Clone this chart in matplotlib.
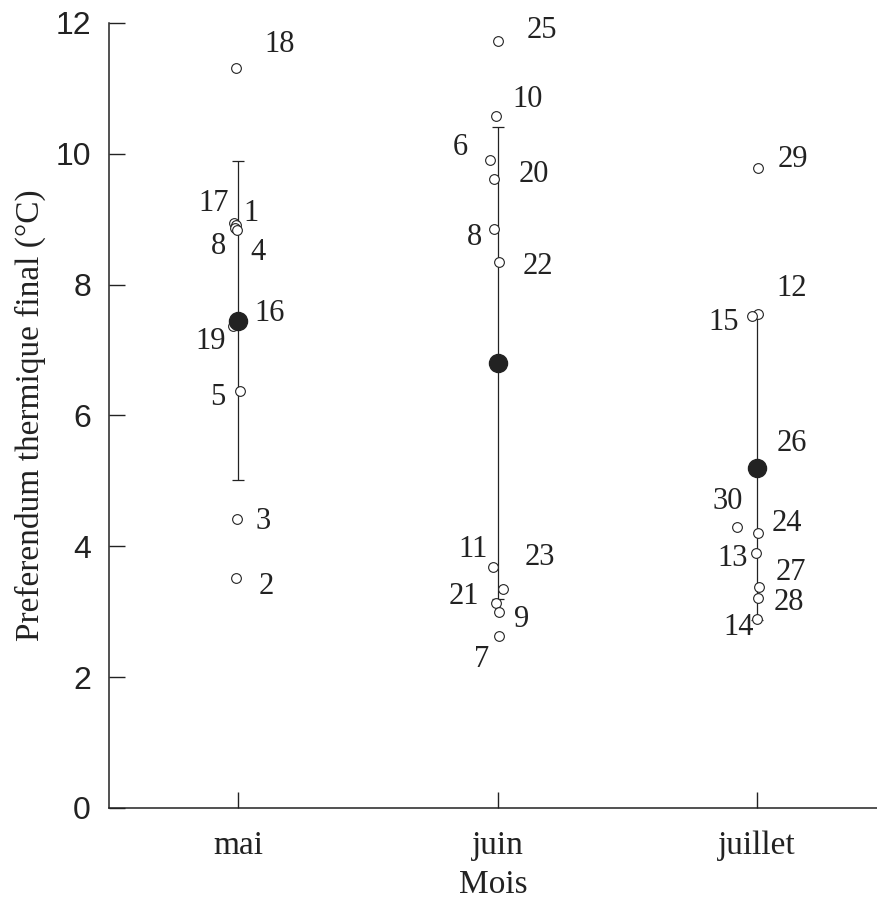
import numpy as np
import matplotlib
matplotlib.use('Agg')
import matplotlib.pyplot as plt

# months on the x axis
mois = ['mai', 'juin', 'juillet']

# individual preferenda (degC) with their fish number, per month
num_mai = ['18', '17', '1', '8', '4', '16', '19', '5', '3', '2']
val_mai = [11.31, 8.94, 8.91, 8.86, 8.83, 7.45, 7.37, 6.37, 4.42, 3.51]
num_juin = ['25', '10', '6', '20', '8', '22', '11', '23', '21', '9', '7']
val_juin = [11.72, 10.58, 9.90, 9.61, 8.85, 8.34, 3.69, 3.34, 3.14, 3.00, 2.63]
num_juillet = ['29', '12', '15', '26', '30', '24', '13', '27', '28', '14']
val_juillet = [9.78, 7.55, 7.52, 5.19, 4.29, 4.21, 3.90, 3.38, 3.21, 2.89]

# mean and standard deviation per month
moyenne = [7.45, 6.80, 5.20]
ecart_type = [2.44, 3.61, 2.33]

# small horizontal shifts of the points (data units) and label offsets (pixels)
jit_mai = [-0.008, -0.015, -0.008, -0.012, -0.004, 0, -0.019, 0.008, -0.004, -0.008]
jit_juin = [0, -0.004, -0.027, -0.012, -0.015, 0.004, -0.019, 0.023, -0.004, 0.004, 0.004]
jit_juillet = [0.004, 0.004, -0.019, -0.004, -0.077, 0.004, -0.004, 0.008, 0.004, 0]
off_mai = [(44, 24), (-20, 20), (15, 12), (-16, -18), (21, -22), (32, 7),
           (-22, -16), (-22, -6), (26, -3), (30, -8)]
off_juin = [(44, 11), (31, 16), (-30, 13), (39, 5), (-19, -8), (39, -4),
            (-20, 17), (36, 32), (-33, 6), (23, -8), (-17, -24)]
off_juillet = [(35, 9), (34, 26), (-28, -6), (36, 25), (-9, 26), (29, 9),
               (-23, -6), (32, 14), (31, -5), (-18, -9)]

col = '#222222'
serif = 'Liberation Serif'
sans = 'Liberation Sans'
px = 72.0 / 100  # pixel -> point

fig = plt.figure(figsize=(8.78, 9.19), dpi=100)
ax = fig.add_axes([0.1241, 0.1208, 0.8759, 0.8542])

groups = [(num_mai, val_mai, jit_mai, off_mai),
          (num_juin, val_juin, jit_juin, off_juin),
          (num_juillet, val_juillet, jit_juillet, off_juillet)]

for i, (nums, vals, jits, offs) in enumerate(groups):
    xpos = i + 1
    ax.errorbar(xpos, moyenne[i], yerr=ecart_type[i], fmt='none', ecolor=col,
                elinewidth=0.9, capsize=4, capthick=0.9, zorder=1)
    xs = xpos + np.array(jits)
    ax.plot(xs, vals, 'o', mfc='white', mec=col, mew=0.8, ms=7, zorder=2)
    ax.plot(xpos, moyenne[i], 'o', color=col, ms=13, zorder=3)
    for n, x, v, (dx, dy) in zip(nums, xs, vals, offs):
        ax.annotate(n, (x, v), xytext=(dx * px, dy * px), textcoords='offset points',
                    ha='center', va='center', fontsize=22, family=serif, color=col)

ax.set_xlim(0.503, 3.466)
ax.set_ylim(0, 12)
ax.set_xticks([1, 2, 3])
ax.set_xticklabels(mois, fontsize=24, family=serif, color=col)
ax.set_yticks(range(0, 13, 2))
ax.set_yticklabels([str(t) for t in range(0, 13, 2)], fontsize=23, family=sans, color=col)
ax.tick_params(direction='in', length=11.5, width=1.0, color=col)
ax.tick_params(axis='y', pad=13)
ax.tick_params(axis='x', pad=16)
ax.spines['top'].set_visible(False)
ax.spines['right'].set_visible(False)
for s in ['left', 'bottom']:
    ax.spines[s].set_linewidth(1.1)
    ax.spines[s].set_color(col)

ax.set_xlabel('Mois', fontsize=24, family=serif, color=col, labelpad=6)
ax.set_ylabel('Preferendum thermique final (°C)', fontsize=24, family=serif,
              color=col, labelpad=7)

fig.savefig('out.png', dpi=100)
